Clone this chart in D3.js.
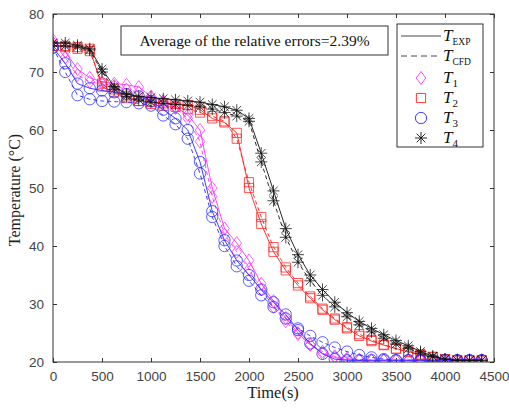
<!DOCTYPE html>
<html>
<head>
<meta charset="utf-8">
<script src="https://cdn.jsdelivr.net/npm/d3@7"></script>
<style>
  html, body { margin: 0; padding: 0; background: #fff; }
  svg { display: block; }
</style>
</head>
<body>
<div id="chart"></div>
<script>
// ---- Data ----
const time = [0, 125, 250, 375, 500, 625, 750, 875, 1000, 1125, 1250, 1375, 1500, 1625, 1750, 1875,
  2000, 2125, 2250, 2375, 2500, 2625, 2750, 2875, 3000, 3125, 3250, 3375, 3500, 3625, 3750, 3875,
  4000, 4125, 4250, 4375];

const t1Exp = [75.5, 73.5, 70.5, 69.0, 68.3, 68.0, 67.8, 67.4, 65.8, 65.0, 64.0, 62.6, 60.0, 50.0, 43.0, 40.5,
  37.5, 33.5, 30.5, 27.6, 25.0, 23.0, 21.5, 20.8, 20.4, 20.3, 20.3, 20.3, 20.3, 20.3, 20.3, 20.3,
  20.3, 20.3, 20.3, 20.3];
const t1Cfd = [75.0, 72.5, 69.5, 68.3, 68.0, 67.6, 67.0, 66.5, 65.6, 64.8, 63.8, 62.0, 58.0, 48.5, 42.0, 39.0,
  36.0, 32.5, 29.5, 27.0, 24.8, 23.0, 21.8, 21.0, 20.6, 20.4, 20.3, 20.3, 20.3, 20.3, 20.3, 20.3,
  20.3, 20.3, 20.3, 20.3];

const t2Exp = [74.5, 74.5, 74.3, 74.0, 67.5, 66.5, 65.5, 65.0, 64.8, 64.6, 64.5, 64.3, 63.5, 62.0, 61.3, 59.5,
  50.0, 43.8, 39.0, 35.8, 33.2, 31.0, 29.0, 27.3, 25.8, 24.5, 23.6, 22.9, 22.3, 21.8, 21.3, 20.9,
  20.5, 20.3, 20.3, 20.3];
const t2Cfd = [74.5, 74.3, 74.0, 73.6, 68.0, 67.0, 65.8, 65.0, 64.5, 64.2, 64.0, 63.6, 63.0, 62.4, 61.5, 58.5,
  51.0, 45.0, 39.8, 36.3, 33.6, 31.3, 29.2, 27.5, 26.0, 24.8, 23.8, 23.0, 22.3, 21.7, 21.2, 20.8,
  20.5, 20.3, 20.3, 20.3];

const t3Exp = [74.2, 71.5, 68.0, 67.2, 66.8, 66.5, 66.2, 65.8, 65.0, 63.5, 62.0, 60.0, 54.5, 46.0, 41.0, 37.5,
  35.0, 32.5, 30.3, 28.2, 25.5, 23.2, 21.4, 20.5, 20.3, 20.3, 20.3, 20.3, 20.3, 20.3, 20.3, 20.3,
  20.3, 20.3, 20.3, 20.3];
const t3Cfd = [74.2, 70.0, 66.0, 65.3, 65.0, 64.9, 64.8, 64.6, 64.2, 62.5, 61.0, 58.5, 52.5, 45.0, 40.0, 36.5,
  34.0, 31.5, 29.5, 27.5, 25.8, 24.5, 23.4, 22.5, 21.8, 21.2, 20.8, 20.5, 20.3, 20.3, 20.3, 20.3,
  20.3, 20.3, 20.3, 20.3];

const t4Exp = [75.0, 75.0, 74.6, 74.0, 70.5, 67.5, 66.2, 65.8, 65.6, 65.4, 65.2, 65.0, 64.8, 64.4, 64.0, 63.4,
  62.0, 56.0, 49.5, 43.0, 38.5, 35.0, 32.5, 30.3, 28.5, 27.0, 25.8, 24.7, 23.7, 22.8, 21.8, 21.0,
  20.5, 20.3, 20.3, 20.3];
const t4Cfd = [74.5, 74.5, 74.3, 73.8, 70.0, 67.0, 65.8, 65.2, 64.8, 64.6, 64.4, 64.2, 64.0, 63.6, 63.0, 62.4,
  61.5, 54.5, 47.8, 41.5, 37.2, 34.0, 31.5, 29.5, 27.8, 26.4, 25.2, 24.1, 23.1, 22.3, 21.5, 20.9,
  20.5, 20.3, 20.3, 20.3];

const xTicks = [0, 500, 1000, 1500, 2000, 2500, 3000, 3500, 4000, 4500];
const yTicks = [20, 30, 40, 50, 60, 70, 80];

const sensors = [
  { name: '1', color: '#ff33ff', marker: 'diamond', exp: t1Exp, cfd: t1Cfd },
  { name: '2', color: '#ff2020', marker: 'square', exp: t2Exp, cfd: t2Cfd },
  { name: '3', color: '#2a2aff', marker: 'circle', exp: t3Exp, cfd: t3Cfd },
  { name: '4', color: '#111111', marker: 'star', exp: t4Exp, cfd: t4Cfd },
];

// ---- Layout ----
const W = 509, H = 408;
const plot = { left: 53, right: 494, top: 14, bottom: 362 };
const serif = '"Liberation Serif", "DejaVu Serif", serif';
const sans = '"Liberation Sans", Arial, sans-serif';

const x = d3.scaleLinear().domain([0, 4500]).range([plot.left, plot.right]);
const y = d3.scaleLinear().domain([20, 80]).range([plot.bottom, plot.top]);

const svg = d3.select('#chart').append('svg')
  .attr('width', W).attr('height', H)
  .attr('viewBox', `0 0 ${W} ${H}`);

svg.append('defs').append('clipPath').attr('id', 'clip')
  .append('rect')
  .attr('x', plot.left).attr('y', plot.top - 6)
  .attr('width', plot.right - plot.left).attr('height', plot.bottom - plot.top + 6);

// marker paths centred on 0,0
function markerPath(kind) {
  switch (kind) {
    case 'diamond': return 'M0,-6.5L4.8,0L0,6.5L-4.8,0Z';
    case 'square': return 'M-4.6,-4.6H4.6V4.6H-4.6Z';
    case 'circle': return d3.symbol(d3.symbolCircle, 100)();
    case 'star': return 'M-6,0H6M0,-6V6M-4.3,-4.3L4.3,4.3M-4.3,4.3L4.3,-4.3';
  }
}

// ---- Axes (MATLAB-like box with inward ticks) ----
const axisColor = '#333';
const tickLen = 4;

const gAxes = svg.append('g');
gAxes.append('g')
  .attr('transform', `translate(0,${plot.bottom})`)
  .call(d3.axisBottom(x).tickValues(xTicks).tickFormat(d3.format('d'))
    .tickSizeInner(-tickLen).tickSizeOuter(0).tickPadding(9))
  .call(g => g.select('.domain').remove())
  .call(g => g.selectAll('text').attr('font-family', sans).attr('font-size', 13.5).attr('fill', '#444'));
gAxes.append('g')
  .attr('transform', `translate(${plot.left},0)`)
  .call(d3.axisLeft(y).tickValues(yTicks).tickSizeInner(-tickLen).tickSizeOuter(0).tickPadding(9))
  .call(g => g.select('.domain').remove())
  .call(g => g.selectAll('text').attr('font-family', sans).attr('font-size', 13.5).attr('fill', '#444'));
// mirrored ticks on top and right
gAxes.append('g')
  .attr('transform', `translate(0,${plot.top})`)
  .call(d3.axisTop(x).tickValues(xTicks).tickSizeInner(-tickLen).tickSizeOuter(0).tickFormat(''))
  .call(g => g.select('.domain').remove());
gAxes.append('g')
  .attr('transform', `translate(${plot.right},0)`)
  .call(d3.axisRight(y).tickValues(yTicks).tickSizeInner(-tickLen).tickSizeOuter(0).tickFormat(''))
  .call(g => g.select('.domain').remove());
gAxes.selectAll('.tick line').attr('stroke', axisColor);

// ---- Series ----
const gData = svg.append('g').attr('clip-path', 'url(#clip)');
const line = d3.line().x((d, i) => x(time[i])).y(d => y(d));

sensors.forEach(s => {
  [['exp', null], ['cfd', '4,3']].forEach(([key, dash]) => {
    gData.append('path')
      .datum(s[key])
      .attr('d', line)
      .attr('fill', 'none')
      .attr('stroke', s.color)
      .attr('stroke-width', 0.9)
      .attr('stroke-dasharray', dash);
    gData.append('g').selectAll('path').data(s[key]).join('path')
      .attr('transform', (d, i) => `translate(${x(time[i])},${y(d)})`)
      .attr('d', markerPath(s.marker))
      .attr('fill', 'none')
      .attr('stroke', s.color)
      .attr('stroke-width', 0.9)
      .attr('stroke-opacity', 0.85);
  });
});

// frame
svg.append('rect')
  .attr('x', plot.left).attr('y', plot.top)
  .attr('width', plot.right - plot.left).attr('height', plot.bottom - plot.top)
  .attr('fill', 'none').attr('stroke', axisColor).attr('stroke-width', 1);

// ---- Axis labels ----
svg.append('text')
  .attr('x', 273).attr('y', 398)
  .attr('text-anchor', 'middle')
  .attr('font-family', serif).attr('font-size', 16.5).attr('fill', '#222')
  .text('Time(s)');

svg.append('text')
  .attr('transform', 'translate(20,190) rotate(-90)')
  .attr('text-anchor', 'middle')
  .attr('font-family', serif).attr('font-size', 16).attr('fill', '#222')
  .text('Temperature (°C)');

// ---- Annotation box ----
svg.append('rect')
  .attr('x', 121).attr('y', 26).attr('width', 267).attr('height', 29)
  .attr('fill', '#fff').attr('stroke', axisColor).attr('stroke-width', 1);
svg.append('text')
  .attr('x', 254.5).attr('y', 46)
  .attr('text-anchor', 'middle')
  .attr('font-family', serif).attr('font-size', 15.5).attr('fill', '#111')
  .text('Average of the relative errors=2.39%');

// ---- Legend ----
const lg = svg.append('g');
lg.append('rect')
  .attr('x', 397).attr('y', 24).attr('width', 86).attr('height', 123)
  .attr('fill', '#fff').attr('stroke', axisColor).attr('stroke-width', 1);

const legendRows = [
  { kind: 'line', dash: null, sub: 'EXP', yy: 36 },
  { kind: 'line', dash: '6,4', sub: 'CFD', yy: 56 },
  ...sensors.map((s, i) => ({ kind: 'marker', s, sub: s.name, yy: 78 + i * 20 })),
];

legendRows.forEach(r => {
  if (r.kind === 'line') {
    lg.append('line')
      .attr('x1', 401).attr('x2', 441).attr('y1', r.yy).attr('y2', r.yy)
      .attr('stroke', '#333').attr('stroke-width', 0.9)
      .attr('stroke-dasharray', r.dash);
  } else {
    lg.append('path')
      .attr('transform', `translate(421,${r.yy})`)
      .attr('d', markerPath(r.s.marker))
      .attr('fill', 'none').attr('stroke', r.s.color).attr('stroke-width', 0.9);
  }
  const t = lg.append('text')
    .attr('x', 443).attr('y', r.yy + 5)
    .attr('font-family', serif).attr('font-size', 17).attr('fill', '#111');
  t.append('tspan').attr('font-style', 'italic').text('T');
  t.append('tspan')
    .attr('dy', 4)
    .attr('font-size', r.kind === 'line' ? 9.5 : 11)
    .text(r.sub);
});
</script>
</body>
</html>
